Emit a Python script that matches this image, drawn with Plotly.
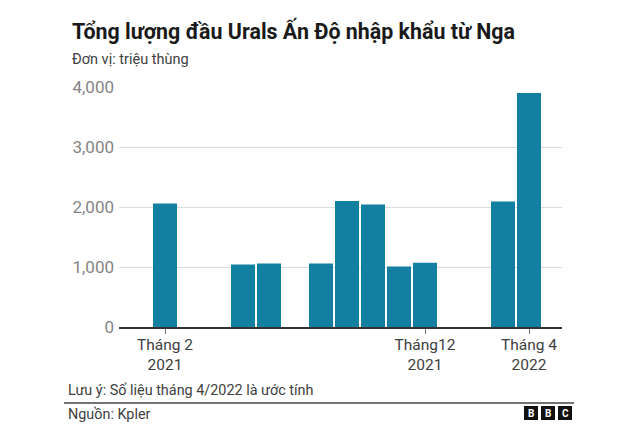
import plotly.graph_objects as go

months = ["2021-02","2021-03","2021-04","2021-05","2021-06","2021-07","2021-08","2021-09",
          "2021-10","2021-11","2021-12","2022-01","2022-02","2022-03","2022-04"]
values = [2060,None,None,1040,1060,None,1060,2100,2040,1010,1070,None,None,2090,3900]
tick_months = ["2021-02","2021-12","2022-04"]
tick_labels = ["Tháng 2<br>2021","Tháng12<br>2021","Tháng 4<br>2022"]
y_ticks = [0,1000,2000,3000,4000]
y_labels = ["0","1,000","2,000","3,000","4,000"]

W,H = 640,433
L,R,T,B = 119,562,87,327
fig = go.Figure(go.Bar(x=months,y=values,marker=dict(color="#1380A1",line_width=0),width=24/26))
fig.update_layout(
    width=W,height=H,autosize=False,margin=dict(l=L,r=W-R,t=T,b=H-B,pad=0),
    paper_bgcolor="white",plot_bgcolor="white",showlegend=False,
    font=dict(family="Roboto",color="#404040"),
)
fig.update_xaxes(type="category",categoryorder="array",categoryarray=months,
    range=[-46/26,397/26],tickmode="array",tickvals=tick_months,ticktext=tick_labels,
    ticks="outside",ticklen=5,tickwidth=1,tickcolor="#777777",
    tickfont=dict(size=15.5,color="#404040"),showgrid=False,ticklabelstandoff=-3,
    showline=True,linecolor="#333333",linewidth=2,zeroline=False)
fig.update_yaxes(range=[0,4000],tickmode="array",tickvals=y_ticks,ticktext=y_labels,
    tickfont=dict(size=17,color="#858585"),gridcolor="#DCDCDC",gridwidth=1,
    zeroline=False,showline=False,ticks="",ticklabelstandoff=4)

def px(x): return (x-L)/(R-L)
def py(y): return (B-y)/(B-T)
def text(x,y,s,size,color="#404040",anchor="left",bold=False):
    fig.add_annotation(xref="paper",yref="paper",x=px(x),y=py(y),text=f"<b>{s}</b>" if bold else s,
        showarrow=False,xanchor=anchor,yanchor="middle",font=dict(size=size,color=color,family="Roboto"),
        borderpad=0,borderwidth=0)

text(72,31,"Tổng lượng đầu Urals Ấn Độ nhập khẩu từ Nga",21.4,"#1a1a1a",bold=True)
text(72,60,"Đơn vị: triệu thùng",14.5)
text(68,390,"Lưu ý: Số liệu tháng 4/2022 là ước tính",14.4)
text(68,414,"Nguồn: Kpler",14.4)

fig.add_shape(type="line",xref="paper",yref="paper",x0=px(64),x1=px(574),y0=py(403),y1=py(403),
    line=dict(color="#444444",width=1.5))
for x0,s in zip([524,541,558],"BBC"):
    fig.add_shape(type="rect",xref="paper",yref="paper",x0=px(x0),x1=px(x0+14),y0=py(406),y1=py(420),
        fillcolor="#111111",line_width=0)
    text(x0+7,413.5,s,10,"white",anchor="center",bold=True)

fig.write_html("out.html",config={"displayModeBar":False},
    post_script="document.body.style.margin='0';document.body.style.overflow='hidden';")
